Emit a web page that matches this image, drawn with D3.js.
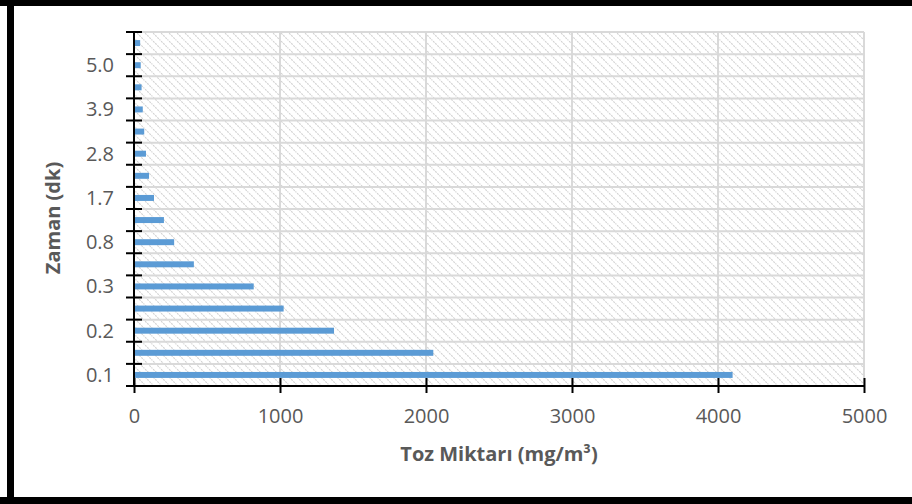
<!DOCTYPE html>
<html>
<head>
<meta charset="utf-8">
<script src="https://cdn.jsdelivr.net/npm/d3@7"></script>
<style>
  html, body { margin: 0; padding: 0; background: #fff; }
  svg { display: block; }
  text { font-family: "Open Sans", "DejaVu Sans", sans-serif; }
</style>
</head>
<body>
<svg id="chart" width="912" height="504"></svg>
<script>
// Time points (minutes), bottom to top
const times = ["0.1", "0.1", "0.2", "0.2", "0.3", "0.6", "0.8", "1.2",
               "1.7", "2.2", "2.8", "3.3", "3.9", "4.4", "5.0", "5.5"];
// Dust concentration at each time point (mg/m³)
const dust = [4100, 2050, 1370, 1025, 820, 410, 275, 205,
              137, 103, 82, 70, 60, 52, 46, 42];
// Value axis ticks
const xTicks = [0, 1000, 2000, 3000, 4000, 5000];
const xTitle = "Toz Miktarı (mg/m³)";
const yTitle = "Zaman (dk)";

const svg = d3.select("#chart");
const W = 912, H = 504;
const plot = { left: 134, right: 864, top: 32, bottom: 386 };

// Outer frame (thick black edges)
svg.append("rect").attr("x", 0).attr("y", 0).attr("width", W).attr("height", H).attr("fill", "#fff");
svg.append("rect").attr("x", 0).attr("y", 0).attr("width", W).attr("height", 6).attr("fill", "#000");
svg.append("rect").attr("x", 7).attr("y", 0).attr("width", 7).attr("height", H).attr("fill", "#000");
svg.append("rect").attr("x", 0).attr("y", 497).attr("width", W).attr("height", 7).attr("fill", "#000");

// Hatched plot-area fill
const defs = svg.append("defs");
const pat = defs.append("pattern")
  .attr("id", "hatch")
  .attr("patternUnits", "userSpaceOnUse")
  .attr("width", 8).attr("height", 8);
pat.append("rect").attr("width", 8).attr("height", 8).attr("fill", "#fff");
pat.append("path")
  .attr("d", "M-1,-1 L9,9 M-1,7 L1,9 M7,-1 L9,1")
  .attr("stroke", "#d2d2d2")
  .attr("stroke-width", 1.1)
  .attr("stroke-dasharray", "2,1");

const x = d3.scaleLinear().domain([0, 5000]).range([plot.left, plot.right]);
const idx = d3.range(times.length);
const y = d3.scaleBand()
  .domain(idx)
  .range([plot.bottom, plot.top])
  .paddingInner(0.73)
  .paddingOuter(0.365);
const step = y.step();
// band boundaries (category separators)
const bounds = d3.range(times.length + 1).map(i => plot.bottom - i * step);

svg.append("rect")
  .attr("x", plot.left).attr("y", plot.top)
  .attr("width", plot.right - plot.left).attr("height", plot.bottom - plot.top)
  .attr("fill", "url(#hatch)");

// Gridlines
const grid = svg.append("g").attr("stroke", "#d9d9d9").attr("stroke-width", 2);
grid.selectAll("line.h").data(bounds.slice(1)).join("line")
  .attr("class", "h")
  .attr("x1", plot.left).attr("x2", plot.right)
  .attr("y1", d => d).attr("y2", d => d);
grid.selectAll("line.v").data(xTicks.slice(1)).join("line")
  .attr("class", "v")
  .attr("x1", d => x(d)).attr("x2", d => x(d))
  .attr("y1", plot.top).attr("y2", plot.bottom);

// Bars
svg.append("g").selectAll("rect").data(dust).join("rect")
  .attr("x", x(0) + 1)
  .attr("y", (d, i) => y(i))
  .attr("width", d => x(d) - x(0) - 1)
  .attr("height", y.bandwidth())
  .attr("fill", "#5b9bd5");

// Value axis
const xAxis = d3.axisBottom(x)
  .tickValues(xTicks)
  .tickFormat(d3.format("d"))
  .tickSizeInner(7)
  .tickSizeOuter(0)
  .tickPadding(16);
const gx = svg.append("g").attr("transform", `translate(0,${plot.bottom})`).call(xAxis);
gx.select(".domain").attr("stroke", "#000").attr("stroke-width", 2)
  .attr("d", `M${plot.left - 8},0H${plot.right}`);
gx.selectAll(".tick line").attr("stroke", "#000").attr("stroke-width", 2).attr("y1", -8);
gx.selectAll(".tick text")
  .attr("fill", "#595959").attr("font-size", 20).attr("y", 30).attr("dy", "0.35em");

// Category axis: separator ticks and every second label
const gy = svg.append("g");
gy.append("line")
  .attr("x1", plot.left).attr("x2", plot.left)
  .attr("y1", plot.top).attr("y2", plot.bottom)
  .attr("stroke", "#000").attr("stroke-width", 2);
gy.selectAll("line.t").data(bounds).join("line")
  .attr("class", "t")
  .attr("x1", plot.left - 8).attr("x2", plot.left + 8)
  .attr("y1", d => d).attr("y2", d => d)
  .attr("stroke", "#000").attr("stroke-width", 2);
gy.selectAll("text").data(idx.filter(i => i % 2 === 0)).join("text")
  .attr("x", 114)
  .attr("y", i => y(i) + y.bandwidth() / 2)
  .attr("dy", "0.35em")
  .attr("text-anchor", "end")
  .attr("fill", "#595959")
  .attr("font-size", 20)
  .text(i => times[i]);

// Axis titles
svg.append("text")
  .attr("x", (plot.left + plot.right) / 2)
  .attr("y", 461)
  .attr("text-anchor", "middle")
  .attr("font-size", 20)
  .attr("font-weight", "bold")
  .attr("fill", "#595959")
  .text(xTitle);
svg.append("text")
  .attr("transform", "translate(60,218) rotate(-90)")
  .attr("text-anchor", "middle")
  .attr("font-size", 20)
  .attr("font-weight", "bold")
  .attr("fill", "#595959")
  .text(yTitle);
</script>
</body>
</html>
